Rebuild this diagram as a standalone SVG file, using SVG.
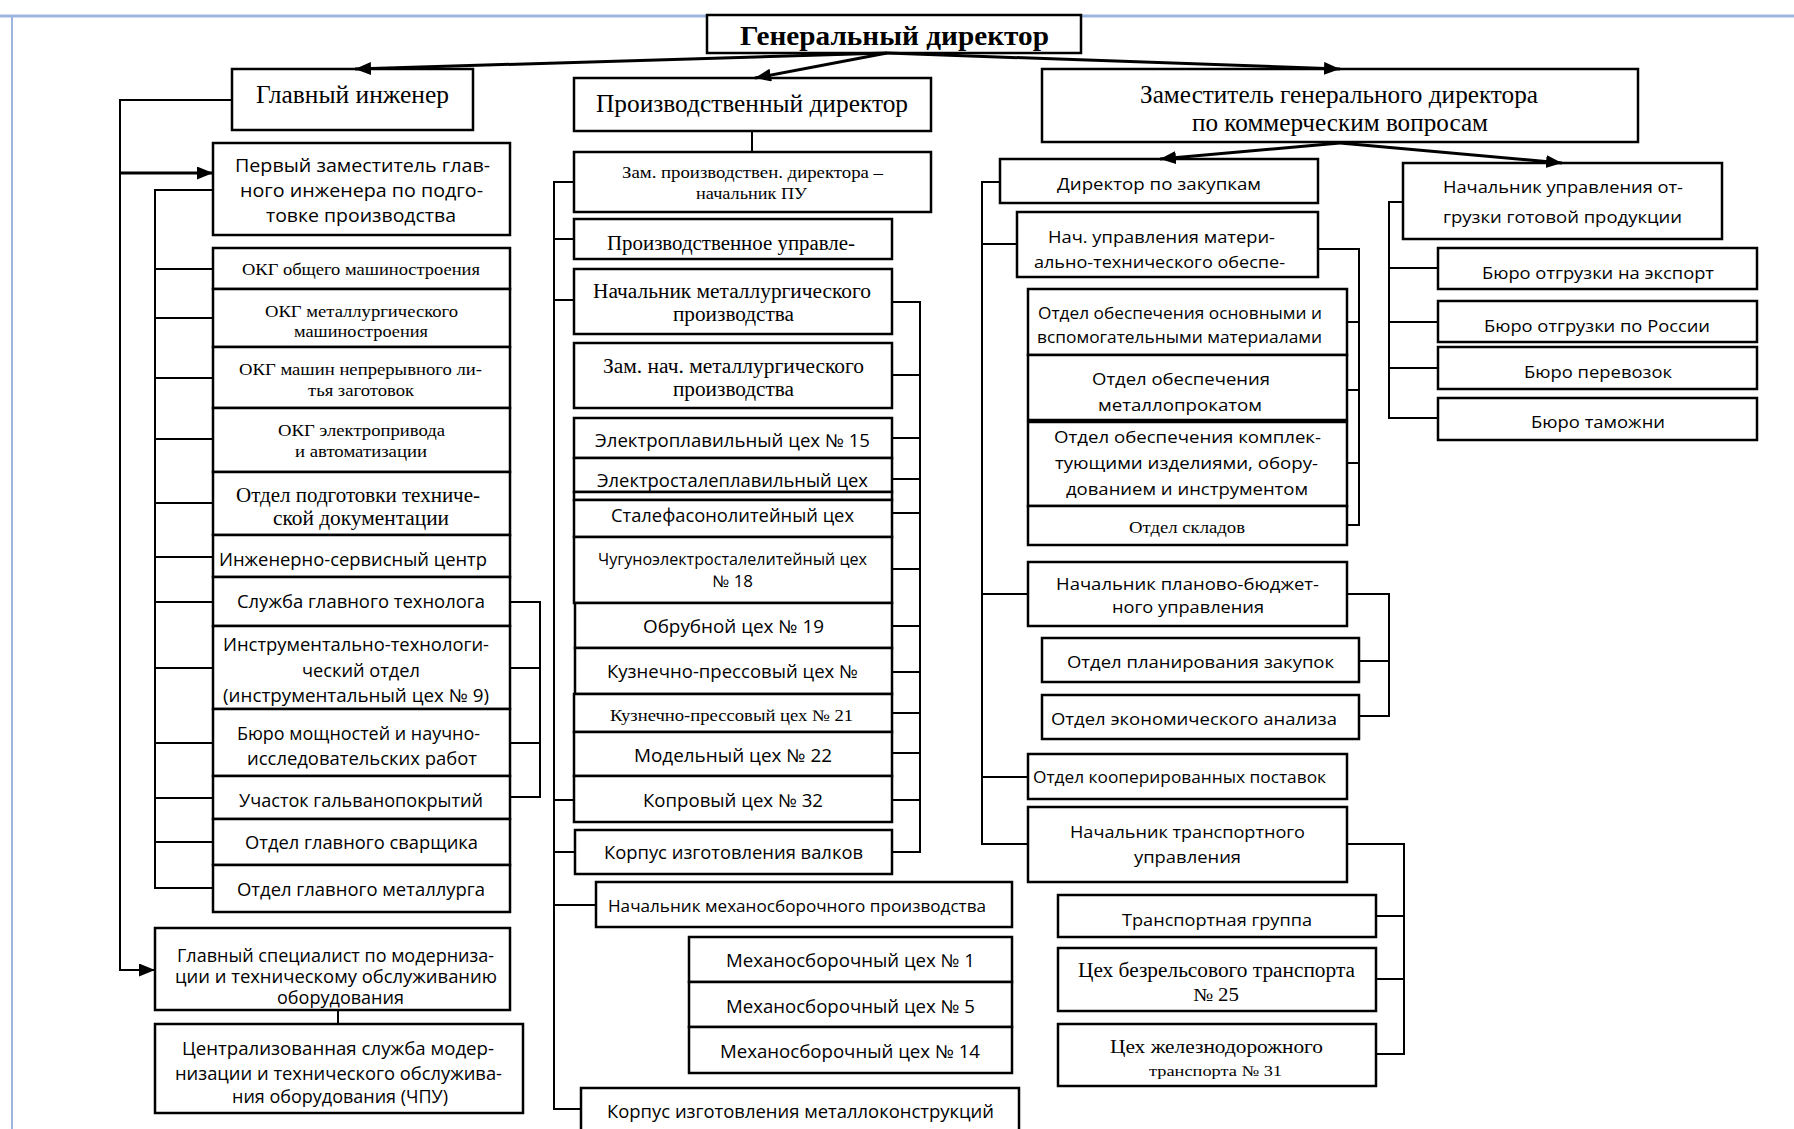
<svg xmlns="http://www.w3.org/2000/svg" width="1794" height="1129" viewBox="0 0 1794 1129">
<style>
.box{fill:#fff;stroke:#000;stroke-width:2.5}
.s{font-family:"Open Sans","Noto Sans","DejaVu Sans",sans-serif;font-size:18px;fill:#000}
.s17{font-family:"Open Sans","Noto Sans","DejaVu Sans",sans-serif;font-size:17px;fill:#000}
.s16{font-family:"Open Sans","Noto Sans","DejaVu Sans",sans-serif;font-size:16px;fill:#000}
.t{font-family:"Liberation Serif","Times New Roman",serif;fill:#000}
.c{fill:none;stroke:#000;stroke-width:2}
.a{fill:none;stroke:#000;stroke-width:3}
.frame{stroke:#9db5de;fill:none}
</style>
<defs>
<marker id="arr" markerUnits="userSpaceOnUse" markerWidth="18" markerHeight="14" refX="16" refY="6.5" orient="auto">
<path d="M0,0 L16,6.5 L0,13 z" fill="#000"/>
</marker>
</defs>
<rect width="1794" height="1129" fill="#fff"/>
<path class="frame" d="M0,16 H1794" stroke-width="3"/>
<path class="frame" d="M12,16 V1129" stroke-width="2"/>

<g id="gd"><rect class="box" x="707" y="15" width="374" height="38"/><text class="t" x="740" y="45" font-size="27" font-weight="bold" textLength="309" lengthAdjust="spacingAndGlyphs">Генеральный директор</text></g>

<g id="gi"><rect class="box" x="232" y="69" width="241" height="61"/><text class="t" x="256" y="103" font-size="25" textLength="193" lengthAdjust="spacingAndGlyphs">Главный инженер</text></g>
<g id="pz"><rect class="box" x="213" y="143" width="297" height="92"/>
<text class="s" x="235" y="172" textLength="255" lengthAdjust="spacingAndGlyphs">Первый заместитель глав-</text>
<text class="s" x="240" y="197" textLength="243" lengthAdjust="spacingAndGlyphs">ного инженера по подго-</text>
<text class="s" x="266" y="222" textLength="190" lengthAdjust="spacingAndGlyphs">товке производства</text></g>
<g id="okg1"><rect class="box" x="213" y="248" width="297" height="41"/><text class="t" font-size="17" x="242" y="275" textLength="238" lengthAdjust="spacingAndGlyphs">ОКГ общего машиностроения</text></g>
<g id="okg2"><rect class="box" x="213" y="289" width="297" height="58"/><text class="t" font-size="17" x="265" y="317" textLength="193" lengthAdjust="spacingAndGlyphs">ОКГ металлургического</text><text class="t" font-size="17" x="294" y="337" textLength="134" lengthAdjust="spacingAndGlyphs">машиностроения</text></g>
<g id="okg3"><rect class="box" x="213" y="347" width="297" height="61"/><text class="t" font-size="17" x="239" y="375" textLength="243" lengthAdjust="spacingAndGlyphs">ОКГ машин непрерывного ли-</text><text class="t" font-size="17" x="308" y="396" textLength="106" lengthAdjust="spacingAndGlyphs">тья заготовок</text></g>
<g id="okg4"><rect class="box" x="213" y="408" width="297" height="64"/><text class="t" font-size="17" x="278" y="436" textLength="167" lengthAdjust="spacingAndGlyphs">ОКГ электропривода</text><text class="t" font-size="17" x="295" y="457" textLength="132" lengthAdjust="spacingAndGlyphs">и автоматизации</text></g>
<g id="optd"><rect class="box" x="213" y="472" width="297" height="63"/><text class="t" font-size="20" x="236" y="502" textLength="244" lengthAdjust="spacingAndGlyphs">Отдел подготовки техниче-</text><text class="t" font-size="20" x="273" y="525" textLength="176" lengthAdjust="spacingAndGlyphs">ской документации</text></g>
<g id="isc"><rect class="box" x="213" y="535" width="297" height="42"/><text class="s" x="219" y="566" textLength="268" lengthAdjust="spacingAndGlyphs">Инженерно-сервисный центр</text></g>
<g id="sgt"><rect class="box" x="213" y="577" width="297" height="49"/><text class="s" x="237" y="608" textLength="248" lengthAdjust="spacingAndGlyphs">Служба главного технолога</text></g>
<g id="ito"><rect class="box" x="213" y="626" width="297" height="83"/>
<text class="s" x="223" y="651" textLength="266" lengthAdjust="spacingAndGlyphs">Инструментально-технологи-</text>
<text class="s" x="302" y="677" textLength="118" lengthAdjust="spacingAndGlyphs">ческий отдел</text>
<text class="s" x="223" y="702" textLength="266" lengthAdjust="spacingAndGlyphs">(инструментальный цех № 9)</text></g>
<g id="bm"><rect class="box" x="213" y="709" width="297" height="67"/><text class="s" x="237" y="740" textLength="243" lengthAdjust="spacingAndGlyphs">Бюро мощностей и научно-</text><text class="s" x="247" y="765" textLength="230" lengthAdjust="spacingAndGlyphs">исследовательских работ</text></g>
<g id="ug"><rect class="box" x="213" y="776" width="297" height="43"/><text class="s" x="239" y="807" textLength="244" lengthAdjust="spacingAndGlyphs">Участок гальванопокрытий</text></g>
<g id="ogs"><rect class="box" x="213" y="819" width="297" height="46"/><text class="s" x="245" y="849" textLength="233" lengthAdjust="spacingAndGlyphs">Отдел главного сварщика</text></g>
<g id="ogm"><rect class="box" x="213" y="865" width="297" height="47"/><text class="s" x="237" y="896" textLength="248" lengthAdjust="spacingAndGlyphs">Отдел главного металлурга</text></g>
<g id="gs"><rect class="box" x="155" y="928" width="355" height="82"/>
<text class="s" x="177" y="962" textLength="317" lengthAdjust="spacingAndGlyphs">Главный специалист по модерниза-</text>
<text class="s" x="175" y="983" textLength="322" lengthAdjust="spacingAndGlyphs">ции и техническому обслуживанию</text>
<text class="s" x="277" y="1004" textLength="127" lengthAdjust="spacingAndGlyphs">оборудования</text></g>
<g id="cs"><rect class="box" x="155" y="1024" width="368" height="89"/>
<text class="s" x="182" y="1055" textLength="312" lengthAdjust="spacingAndGlyphs">Централизованная служба модер-</text>
<text class="s" x="175" y="1080" textLength="327" lengthAdjust="spacingAndGlyphs">низации и технического обслужива-</text>
<text class="s" x="232" y="1103" textLength="216" lengthAdjust="spacingAndGlyphs">ния оборудования (ЧПУ)</text></g>

<g id="pd"><rect class="box" x="574" y="78" width="357" height="53"/><text class="t" x="596" y="112" font-size="25" textLength="312" lengthAdjust="spacingAndGlyphs">Производственный директор</text></g>
<g id="zpd"><rect class="box" x="574" y="152" width="357" height="60"/><text class="t" font-size="16" x="622" y="178" textLength="261" lengthAdjust="spacingAndGlyphs">Зам. производствен. директора –</text><text class="t" font-size="16" x="696" y="199" textLength="111" lengthAdjust="spacingAndGlyphs">начальник ПУ</text></g>
<g id="pu"><rect class="box" x="574" y="219" width="318" height="40"/><text class="t" font-size="20" x="607" y="250" textLength="248" lengthAdjust="spacingAndGlyphs">Производственное управле-</text></g>
<g id="nmp"><rect class="box" x="574" y="269" width="318" height="65"/><text class="t" font-size="20" x="593" y="298" textLength="278" lengthAdjust="spacingAndGlyphs">Начальник металлургического</text><text class="t" font-size="20" x="673" y="321" textLength="121" lengthAdjust="spacingAndGlyphs">производства</text></g>
<g id="znmp"><rect class="box" x="574" y="343" width="318" height="65"/><text class="t" font-size="20" x="603" y="373" textLength="261" lengthAdjust="spacingAndGlyphs">Зам. нач. металлургического</text><text class="t" font-size="20" x="673" y="396" textLength="121" lengthAdjust="spacingAndGlyphs">производства</text></g>
<g id="c15"><rect class="box" x="574" y="418" width="318" height="40"/><text class="s" x="595" y="447" textLength="275" lengthAdjust="spacingAndGlyphs">Электроплавильный цех № 15</text></g>
<g id="esp"><rect class="box" x="574" y="458" width="318" height="34"/><text class="s" x="597" y="487" textLength="271" lengthAdjust="spacingAndGlyphs">Электросталеплавильный цех</text><rect class="box" x="574" y="492" width="318" height="8" stroke-width="2"/></g>
<g id="sfl"><rect class="box" x="574" y="500" width="318" height="37"/><text class="s" x="611" y="522" textLength="243" lengthAdjust="spacingAndGlyphs">Сталефасонолитейный цех</text></g>
<g id="c18"><rect class="box" x="574" y="537" width="318" height="66"/><text class="s16" x="598" y="565" textLength="269" lengthAdjust="spacingAndGlyphs">Чугуноэлектросталелитейный цех</text><text class="s16" x="712" y="587" textLength="41" lengthAdjust="spacingAndGlyphs">№ 18</text></g>
<g id="c19"><rect class="box" x="575" y="603" width="317" height="45"/><text class="s" x="643" y="633" textLength="181" lengthAdjust="spacingAndGlyphs">Обрубной цех № 19</text></g>
<g id="kp"><rect class="box" x="575" y="648" width="317" height="46"/><text class="s" x="607" y="678" textLength="251" lengthAdjust="spacingAndGlyphs">Кузнечно-прессовый цех №</text></g>
<g id="c21"><rect class="box" x="574" y="694" width="318" height="38"/><text class="t" font-size="16" x="610" y="721" textLength="243" lengthAdjust="spacingAndGlyphs">Кузнечно-прессовый цех № 21</text></g>
<g id="c22"><rect class="box" x="574" y="732" width="318" height="44"/><text class="s" x="634" y="762" textLength="198" lengthAdjust="spacingAndGlyphs">Модельный цех № 22</text></g>
<g id="c32"><rect class="box" x="574" y="776" width="318" height="46"/><text class="s" x="643" y="807" textLength="180" lengthAdjust="spacingAndGlyphs">Копровый цех № 32</text></g>
<g id="kv"><rect class="box" x="575" y="830" width="317" height="44"/><text class="s" x="604" y="859" textLength="259" lengthAdjust="spacingAndGlyphs">Корпус изготовления валков</text></g>
<g id="nmsp"><rect class="box" x="596" y="882" width="416" height="45"/><text class="s17" x="608" y="912" textLength="378" lengthAdjust="spacingAndGlyphs">Начальник механосборочного производства</text></g>
<g id="m1"><rect class="box" x="689" y="937" width="323" height="45"/><text class="s" x="726" y="967" textLength="249" lengthAdjust="spacingAndGlyphs">Механосборочный цех № 1</text></g>
<g id="m5"><rect class="box" x="689" y="982" width="323" height="45"/><text class="s" x="726" y="1013" textLength="249" lengthAdjust="spacingAndGlyphs">Механосборочный цех № 5</text></g>
<g id="m14"><rect class="box" x="689" y="1027" width="323" height="46"/><text class="s" x="720" y="1058" textLength="260" lengthAdjust="spacingAndGlyphs">Механосборочный цех № 14</text></g>
<g id="kmk"><rect class="box" x="581" y="1088" width="438" height="50"/><text class="s" x="607" y="1118" textLength="387" lengthAdjust="spacingAndGlyphs">Корпус изготовления металлоконструкций</text></g>

<g id="zgd"><rect class="box" x="1042" y="69" width="596" height="73"/><text class="t" font-size="25" x="1140" y="103" textLength="398" lengthAdjust="spacingAndGlyphs">Заместитель генерального директора</text><text class="t" font-size="25" x="1192" y="131" textLength="296" lengthAdjust="spacingAndGlyphs">по коммерческим вопросам</text></g>
<g id="dz"><rect class="box" x="1000" y="159" width="318" height="44"/><text class="s17" x="1057" y="190" textLength="204" lengthAdjust="spacingAndGlyphs">Директор по закупкам</text></g>
<g id="numto"><rect class="box" x="1017" y="212" width="301" height="65"/><text class="s17" x="1048" y="243" textLength="227" lengthAdjust="spacingAndGlyphs">Нач. управления матери-</text><text class="s17" x="1034" y="268" textLength="251" lengthAdjust="spacingAndGlyphs">ально-технического обеспе-</text></g>
<g id="oom"><rect class="box" x="1028" y="289" width="319" height="66"/><text class="s17" x="1038" y="319" textLength="284" lengthAdjust="spacingAndGlyphs">Отдел обеспечения основными и</text><text class="s17" x="1037" y="343" textLength="285" lengthAdjust="spacingAndGlyphs">вспомогательными материалами</text></g>
<g id="omp"><rect class="box" x="1028" y="355" width="319" height="65"/><text class="s17" x="1092" y="385" textLength="178" lengthAdjust="spacingAndGlyphs">Отдел обеспечения</text><text class="s17" x="1098" y="411" textLength="164" lengthAdjust="spacingAndGlyphs">металлопрокатом</text></g>
<g id="oki"><rect class="box" x="1028" y="422" width="319" height="84"/>
<text class="s17" x="1054" y="443" textLength="267" lengthAdjust="spacingAndGlyphs">Отдел обеспечения комплек-</text>
<text class="s17" x="1055" y="469" textLength="263" lengthAdjust="spacingAndGlyphs">тующими изделиями, обору-</text>
<text class="s17" x="1066" y="495" textLength="242" lengthAdjust="spacingAndGlyphs">дованием и инструментом</text></g>
<g id="osk"><rect class="box" x="1028" y="506" width="319" height="39"/><text class="t" font-size="17" x="1129" y="533" textLength="116" lengthAdjust="spacingAndGlyphs">Отдел складов</text></g>
<g id="npbu"><rect class="box" x="1028" y="562" width="319" height="64"/><text class="s17" x="1056" y="590" textLength="263" lengthAdjust="spacingAndGlyphs">Начальник планово-бюджет-</text><text class="s17" x="1112" y="613" textLength="152" lengthAdjust="spacingAndGlyphs">ного управления</text></g>
<g id="opz"><rect class="box" x="1042" y="638" width="317" height="44"/><text class="s17" x="1067" y="668" textLength="267" lengthAdjust="spacingAndGlyphs">Отдел планирования закупок</text></g>
<g id="oea"><rect class="box" x="1042" y="695" width="317" height="44"/><text class="s17" x="1051" y="725" textLength="286" lengthAdjust="spacingAndGlyphs">Отдел экономического анализа</text></g>
<g id="okp"><rect class="box" x="1028" y="754" width="319" height="45"/><text class="s17" x="1033" y="783" textLength="293" lengthAdjust="spacingAndGlyphs">Отдел кооперированных поставок</text></g>
<g id="ntu"><rect class="box" x="1028" y="807" width="319" height="75"/><text class="s17" x="1070" y="838" textLength="235" lengthAdjust="spacingAndGlyphs">Начальник транспортного</text><text class="s17" x="1134" y="863" textLength="107" lengthAdjust="spacingAndGlyphs">управления</text></g>
<g id="tg"><rect class="box" x="1058" y="895" width="318" height="42"/><text class="s17" x="1122" y="926" textLength="190" lengthAdjust="spacingAndGlyphs">Транспортная группа</text></g>
<g id="c25"><rect class="box" x="1058" y="948" width="318" height="63"/><text class="t" font-size="20" x="1078" y="977" textLength="277" lengthAdjust="spacingAndGlyphs">Цех безрельсового транспорта</text><text class="t" font-size="18" x="1193" y="1001" textLength="46" lengthAdjust="spacingAndGlyphs">№ 25</text></g>
<g id="c31"><rect class="box" x="1058" y="1024" width="318" height="62"/><text class="t" font-size="19" x="1110" y="1053" textLength="213" lengthAdjust="spacingAndGlyphs">Цех железнодорожного</text><text class="t" font-size="15" x="1149" y="1076" textLength="133" lengthAdjust="spacingAndGlyphs">транспорта № 31</text></g>

<g id="nuo"><rect class="box" x="1403" y="163" width="319" height="76"/><text class="s17" x="1443" y="193" textLength="240" lengthAdjust="spacingAndGlyphs">Начальник управления от-</text><text class="s17" x="1443" y="223" textLength="239" lengthAdjust="spacingAndGlyphs">грузки готовой продукции</text></g>
<g id="boe"><rect class="box" x="1438" y="248" width="319" height="41"/><text class="s17" x="1482" y="279" textLength="232" lengthAdjust="spacingAndGlyphs">Бюро отгрузки на экспорт</text></g>
<g id="bor"><rect class="box" x="1438" y="301" width="319" height="41"/><text class="s17" x="1484" y="332" textLength="226" lengthAdjust="spacingAndGlyphs">Бюро отгрузки по России</text></g>
<g id="bp"><rect class="box" x="1438" y="347" width="319" height="42"/><text class="s17" x="1524" y="378" textLength="148" lengthAdjust="spacingAndGlyphs">Бюро перевозок</text></g>
<g id="bt"><rect class="box" x="1438" y="398" width="319" height="42"/><text class="s17" x="1531" y="428" textLength="134" lengthAdjust="spacingAndGlyphs">Бюро таможни</text></g>

<g id="connectors">
<path class="a" marker-end="url(#arr)" d="M887,53 L355,69"/>
<path class="a" marker-end="url(#arr)" d="M887,53 L755,78"/>
<path class="a" marker-end="url(#arr)" d="M887,53 L1340,69"/>
<path class="a" marker-end="url(#arr)" d="M1340,143 L1160,159"/>
<path class="a" marker-end="url(#arr)" d="M1340,143 L1562,163"/>
<path class="c" marker-end="url(#arr)" d="M232,100 H120 V970 H155" stroke-width="2.5"/>
<path class="a" marker-end="url(#arr)" d="M120,173 H213"/>
<path class="c" d="M213,190 H155 V888 H213 M155,269 H213 M155,318 H213 M155,378 H213 M155,439 H213 M155,503 H213 M155,557 H213 M155,602 H213 M155,668 H213 M155,743 H213 M155,798 H213 M155,842 H213"/>
<path class="c" d="M510,602 H540 V797 H510 M510,668 H540 M510,743 H540"/>
<path class="c" d="M338,1010 V1024"/>
<path class="c" d="M752,131 V152"/>
<path class="c" d="M574,182 H554 V1109 H581 M554,239 H574 M554,300 H574 M554,800 H574 M554,852 H575 M554,905 H596"/>
<path class="c" d="M892,302 H920 V852 H892 M892,375 H920 M892,438 H920 M892,479 H920 M892,513 H920 M892,569 H920 M892,626 H920 M892,672 H920 M892,713 H920 M892,753 H920 M892,800 H920"/>
<path class="c" d="M1000,182 H982 V844 H1028 M982,244 H1017 M982,594 H1028 M982,777 H1028"/>
<path class="c" d="M1318,249 H1359 V525 H1347 M1347,322 H1359 M1347,390 H1359 M1347,463 H1359"/>
<path class="c" d="M1347,594 H1389 V716 H1359 M1359,661 H1389"/>
<path class="c" d="M1347,844 H1404 V1054 H1376 M1376,916 H1404 M1376,979 H1404"/>
<path class="c" d="M1403,202 H1389 V418 H1438 M1389,268 H1438 M1389,322 H1438 M1389,368 H1438"/>
</g>
</svg>
